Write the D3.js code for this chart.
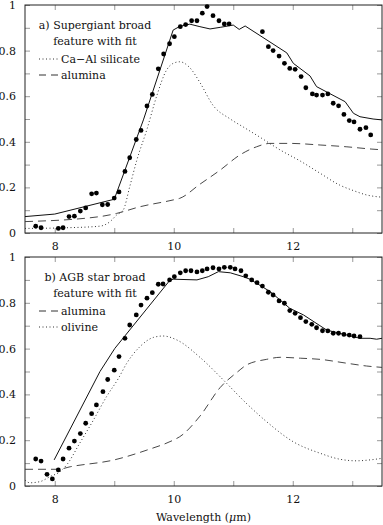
<!DOCTYPE html>
<html>
<head>
<meta charset="utf-8">
<script src="https://cdn.jsdelivr.net/npm/d3@7"></script>
<style>
  body { margin: 0; background: #fff; }
  svg { display: block; }
  text { font-family: "DejaVu Serif", "Liberation Serif", serif; fill: #111; }
  .tick text { font-size: 11px; }
  .tick line { stroke: #999; }
  .domain { display: none; }
</style>
</head>
<body>
<svg class="chart" width="383" height="525"></svg>
<script>
// panel a) supergiant: observed points
var sgObsX = [7.68, 7.77, 8.06, 8.14, 8.24, 8.33, 8.43, 8.52, 8.62, 8.70, 8.80, 8.89, 9.00, 9.08, 9.18, 9.26,
  9.37, 9.45, 9.55, 9.64, 9.74, 9.83, 9.93, 10.01, 10.11, 10.20, 10.30, 10.39, 10.48, 10.56, 10.66, 10.76,
  10.85, 10.93, 11.49, 11.59, 11.67, 11.77, 11.86, 11.95, 12.04, 12.14, 12.22, 12.33, 12.40, 12.50, 12.59,
  12.68, 12.77, 12.86, 12.95, 13.03, 13.13, 13.23, 13.31];
var sgObsY = [0.03, 0.023, 0.02, 0.023, 0.072, 0.074, 0.096, 0.11, 0.172, 0.175, 0.124, 0.125, 0.153, 0.18, 0.27, 0.33,
  0.41, 0.45, 0.557, 0.608, 0.72, 0.785, 0.83, 0.861, 0.905, 0.914, 0.931, 0.931, 0.964, 0.993, 0.953, 0.931,
  0.917, 0.917, 0.883, 0.817, 0.80, 0.776, 0.744, 0.722, 0.718, 0.686, 0.637, 0.61, 0.605, 0.605, 0.61,
  0.569, 0.558, 0.52, 0.493, 0.487, 0.455, 0.462, 0.43];
// fit
var sgFitX = [7.5, 8.0, 9.0, 9.49, 9.99, 10.1, 10.27, 10.44, 10.61, 10.78, 11.0, 11.1, 11.2, 11.9, 12.01, 12.29,
  12.4, 12.88, 13.02, 13.13, 13.35, 13.5];
var sgFitY = [0.072, 0.083, 0.148, 0.496, 0.89, 0.906, 0.916, 0.905, 0.895, 0.902, 0.912, 0.893, 0.908, 0.79, 0.744, 0.689,
  0.642, 0.576, 0.525, 0.51, 0.5, 0.496];
// Ca-Al silicate
var silX = [7.5, 8.2, 8.76, 8.93, 9.04, 9.15, 9.26, 9.38, 9.55, 9.71, 9.88, 9.99, 10.1, 10.27, 10.44, 10.66, 10.95,
  11.2, 11.45, 11.79, 12.13, 12.46, 12.79, 13.02, 13.24, 13.5];
var silY = [0.02, 0.023, 0.03, 0.05, 0.079, 0.10, 0.203, 0.32, 0.455, 0.598, 0.715, 0.744, 0.751, 0.725, 0.66, 0.56, 0.5,
  0.46, 0.42, 0.364, 0.315, 0.262, 0.21, 0.186, 0.167, 0.157];
// alumina (panel a)
var aluAX = [7.5, 8.76, 9.04, 9.43, 9.99, 10.1, 10.44, 10.78, 11.11, 11.39, 11.62, 11.95, 12.46, 12.91, 13.33, 13.5];
var aluAY = [0.05, 0.072, 0.086, 0.115, 0.145, 0.152, 0.214, 0.276, 0.342, 0.378, 0.393, 0.393, 0.386, 0.378, 0.368, 0.365];

// panel b) AGB star
var agbObsX = [7.68, 7.77, 7.87, 7.96, 8.06, 8.14, 8.24, 8.33, 8.43, 8.52, 8.62, 8.70, 8.81, 8.89, 9.00, 9.08, 9.18,
  9.26, 9.37, 9.45, 9.55, 9.64, 9.74, 9.82, 9.93, 10.01, 10.11, 10.20, 10.29, 10.39, 10.48, 10.56, 10.66,
  10.76, 10.85, 10.95, 11.03, 11.13, 11.21, 11.31, 11.40, 11.49, 11.59, 11.67, 11.77, 11.86, 11.95, 12.04,
  12.13, 12.22, 12.32, 12.40, 12.50, 12.59, 12.68, 12.77, 12.86, 12.95, 13.03, 13.13];
var agbObsY = [0.118, 0.109, 0.051, 0.031, 0.07, 0.118, 0.165, 0.196, 0.229, 0.274, 0.316, 0.354, 0.412, 0.465, 0.506, 0.565, 0.645,
  0.703, 0.747, 0.79, 0.82, 0.844, 0.881, 0.882, 0.90, 0.914, 0.931, 0.94, 0.94, 0.935, 0.94, 0.948, 0.953,
  0.948, 0.955, 0.955, 0.948, 0.94, 0.918, 0.90, 0.888, 0.873, 0.846, 0.834, 0.808, 0.798, 0.766, 0.754,
  0.735, 0.718, 0.706, 0.691, 0.678, 0.677, 0.667, 0.667, 0.662, 0.659, 0.655, 0.652];
var agbFitX = [7.99, 8.76, 9.01, 9.94, 10.0, 10.39, 10.58, 10.75, 10.95, 11.17, 11.28, 11.62, 11.95, 12.18, 12.57,
  12.91, 13.13, 13.3, 13.41, 13.5];
var agbFitY = [0.114, 0.5, 0.601, 0.90, 0.903, 0.90, 0.914, 0.936, 0.931, 0.914, 0.903, 0.849, 0.776, 0.747, 0.681,
  0.659, 0.645, 0.645, 0.641, 0.645];
var aluBX = [7.5, 8.06, 8.26, 9.0, 9.55, 9.99, 10.1, 10.44, 10.78, 11.08, 11.22, 11.56, 11.79, 12.13, 12.46, 12.91, 13.24, 13.5];
var aluBY = [0.073, 0.073, 0.084, 0.114, 0.157, 0.20, 0.215, 0.305, 0.43, 0.5, 0.528, 0.553, 0.562, 0.558, 0.553, 0.536, 0.524, 0.518];
var olivX = [7.5, 7.58, 7.75, 7.92, 8.09, 8.2, 8.42, 8.65, 8.87, 9.07, 9.21, 9.43, 9.66, 9.82, 10.05, 10.44, 10.78,
  10.89, 11.22, 11.56, 12.01, 12.46, 12.79, 13.07, 13.3, 13.5];
var olivY = [0.026, 0.014, 0.019, 0.041, 0.063, 0.092, 0.187, 0.288, 0.39, 0.47, 0.536, 0.608, 0.649, 0.655, 0.638, 0.562, 0.477,
  0.448, 0.361, 0.281, 0.193, 0.143, 0.117, 0.11, 0.114, 0.121];

var xTicks = [8, 9, 10, 11, 12, 13];
var xLabels = [8, 10, 12];
var yTicks = [0, 0.1, 0.2, 0.3, 0.4, 0.5, 0.6, 0.7, 0.8, 0.9, 1];
var yLabels = [0, 0.2, 0.4, 0.6, 0.8, 1];

var svg = d3.select('.chart');
var left = 25, right = 382;

var x = d3.scaleLinear().domain([7.5, 13.5]).range([left, right]);

function zip(xs, ys) {
  return xs.map(function(d, i) { return [d, ys[i]]; });
}

function drawPanel(top, bottom, obs, fit, comps, title, legend) {
  var y = d3.scaleLinear().domain([0, 1]).range([bottom, top]);
  var g = svg.append('g');

  // ticks on all four sides, pointing inwards
  g.append('g')
    .attr('transform', 'translate(0,' + bottom + ')')
    .call(d3.axisBottom(x).tickValues(xTicks).tickSize(-5).tickPadding(9)
      .tickFormat(function(d) { return xLabels.indexOf(d) >= 0 ? d : ''; }));
  g.append('g')
    .attr('transform', 'translate(0,' + top + ')')
    .call(d3.axisTop(x).tickValues(xTicks).tickSize(-5).tickFormat(''));
  g.append('g')
    .attr('transform', 'translate(' + left + ',0)')
    .call(d3.axisLeft(y).tickValues(yTicks).tickSize(-5).tickPadding(9)
      .tickFormat(function(d) {
        return yLabels.some(function(v) { return Math.abs(v - d) < 1e-9; }) ? d3.format('~g')(d) : '';
      }));
  g.append('g')
    .attr('transform', 'translate(' + right + ',0)')
    .call(d3.axisRight(y).tickValues(yTicks).tickSize(-5).tickFormat(''));

  g.append('rect')
    .attr('x', left).attr('y', top)
    .attr('width', right - left).attr('height', bottom - top)
    .attr('fill', 'none').attr('stroke', '#222').attr('stroke-width', 1);

  var line = d3.line().x(function(d) { return x(d[0]); }).y(function(d) { return y(d[1]); });
  var smooth = d3.line().curve(d3.curveMonotoneX)
    .x(function(d) { return x(d[0]); }).y(function(d) { return y(d[1]); });

  comps.forEach(function(c) {
    g.append('path')
      .attr('d', smooth(c.data))
      .attr('fill', 'none')
      .attr('stroke', '#333')
      .attr('stroke-width', c.dash == 'dot' ? 1 : 0.9)
      .attr('stroke-dasharray', c.dash == 'dot' ? '1,2.5' : '8,5');
  });

  g.append('path')
    .attr('d', line(fit))
    .attr('fill', 'none')
    .attr('stroke', '#111')
    .attr('stroke-width', 1);

  g.selectAll('circle.obs')
    .data(obs)
    .enter().append('circle')
      .attr('class', 'obs')
      .attr('cx', function(d) { return x(d[0]); })
      .attr('cy', function(d) { return y(d[1]); })
      .attr('r', 2.4)
      .attr('fill', '#000');

  // title, two centred lines
  title.forEach(function(t, i) {
    g.append('text')
      .attr('x', 95).attr('y', top + 24 + i * 16)
      .attr('text-anchor', 'middle')
      .style('font-size', '11px')
      .text(t);
  });

  legend.forEach(function(l, i) {
    var ly = top + 58 + i * 16;
    g.append('line')
      .attr('x1', 39).attr('x2', 58)
      .attr('y1', ly - 4).attr('y2', ly - 4)
      .attr('stroke', '#333')
      .attr('stroke-dasharray', l.dash == 'dot' ? '1,2.5' : '7,5');
    g.append('text')
      .attr('x', 61).attr('y', ly)
      .style('font-size', '11px')
      .text(l.label);
  });
}

drawPanel(5, 233, zip(sgObsX, sgObsY), zip(sgFitX, sgFitY),
  [{ data: zip(silX, silY), dash: 'dot' }, { data: zip(aluAX, aluAY), dash: 'dash' }],
  ['a) Supergiant broad', 'feature with fit'],
  [{ label: 'Ca\u2212Al silicate', dash: 'dot' }, { label: 'alumina', dash: 'dash' }]);

drawPanel(257, 486, zip(agbObsX, agbObsY), zip(agbFitX, agbFitY),
  [{ data: zip(aluBX, aluBY), dash: 'dash' }, { data: zip(olivX, olivY), dash: 'dot' }],
  ['b) AGB star broad', 'feature with fit'],
  [{ label: 'alumina', dash: 'dash' }, { label: 'olivine', dash: 'dot' }]);

var xt = svg.append('text')
  .attr('x', (left + right) / 2).attr('y', 521)
  .attr('text-anchor', 'middle')
  .style('font-size', '11px');
xt.append('tspan').text('Wavelength (');
xt.append('tspan').style('font-style', 'italic').text('\u03bc');
xt.append('tspan').text('m)');
</script>
</body>
</html>
